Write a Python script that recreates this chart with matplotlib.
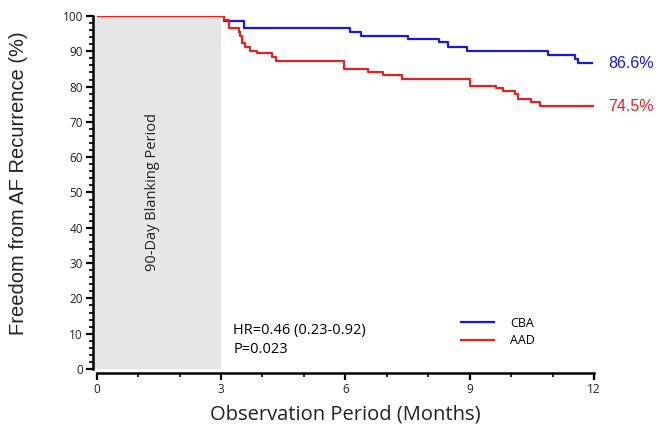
import numpy as np
import matplotlib
matplotlib.use('Agg')
import matplotlib.pyplot as plt
from matplotlib.ticker import MultipleLocator

# curvas de Kaplan-Meier (meses, %)
cba_t = [0, 3.07, 3.55, 6.11, 6.38, 7.51, 8.26, 8.47, 8.93, 10.90, 11.53, 11.62, 11.94]
cba_s = [100, 98.7, 96.5, 95.4, 94.4, 93.5, 92.6, 91.3, 90.2, 89.0, 87.7, 86.6, 86.6]

aad_t = [0, 3.08, 3.19, 3.43, 3.47, 3.51, 3.59, 3.71, 3.87, 4.24, 4.32, 5.96,
         6.54, 6.92, 7.37, 9.00, 9.64, 9.81, 10.09, 10.17, 10.49, 10.69, 11.99]
aad_s = [100, 98.9, 96.7, 95.4, 94.3, 92.3, 91.1, 90.2, 89.4, 88.3, 87.3, 85.0,
         84.2, 83.3, 82.2, 80.3, 79.5, 78.8, 77.8, 76.5, 75.6, 74.5, 74.5]

cor_cba = '#1a1ad6'
cor_aad = '#e02424'

fig = plt.figure(figsize=(6.59, 4.36), dpi=100)
ax = fig.add_axes([0.1467, 0.1537, 0.7547, 0.8096])

# periodo de blanking
ax.axvspan(-0.1, 3, ymin=0, ymax=1, color='#e6e6e6', zorder=0, lw=0, clip_on=False)
ax.text(1.34, 50, '90-Day Blanking Period', rotation=90, ha='center', va='center',
        fontsize=10.5, family='Open Sans', color='#222222')

ax.step(cba_t, cba_s, where='post', color=cor_cba, lw=1.6, label='CBA')
ax.step(aad_t, aad_s, where='post', color=cor_aad, lw=1.6, label='AAD')

ax.text(12.35, cba_s[-1], f'{cba_s[-1]}%', color=cor_cba, fontsize=11.5,
        family='Liberation Sans', va='center', ha='left')
ax.text(12.35, aad_s[-1], f'{aad_s[-1]}%', color=cor_aad, fontsize=11.5,
        family='Liberation Sans', va='center', ha='left')

ax.text(3.3, 11.0, 'HR=0.46 (0.23-0.92)', fontsize=10.5, family='Open Sans', va='center')
ax.text(3.3, 5.4, 'P=0.023', fontsize=10.5, family='Open Sans', va='center')

leg = ax.legend(loc='lower left', bbox_to_anchor=(0.71, 0.03), frameon=False,
                prop={'family': 'Open Sans', 'size': 9}, handlelength=2.6,
                labelspacing=0.35, handletextpad=1.3)

ax.set_xlim(0, 12)
ax.set_ylim(0, 100)
ax.xaxis.set_major_locator(MultipleLocator(3))
ax.xaxis.set_minor_locator(MultipleLocator(1))
ax.yaxis.set_major_locator(MultipleLocator(10))
ax.yaxis.set_minor_locator(MultipleLocator(2))

for lado in ['top', 'right']:
    ax.spines[lado].set_visible(False)
for lado in ['left', 'bottom']:
    ax.spines[lado].set_linewidth(1.8)
    ax.spines[lado].set_position(('outward', 3))

ax.tick_params(which='major', length=5, width=1.6, labelsize=8.5, pad=2)
ax.tick_params(which='minor', length=3, width=1.2)
for lbl in ax.get_xticklabels() + ax.get_yticklabels():
    lbl.set_family('Open Sans')
    lbl.set_color('#222222')

ax.set_xlabel('Observation Period (Months)', fontsize=14.5, family='Open Sans', labelpad=6,
              color='#222222')
ax.set_ylabel('Freedom from AF Recurrence (%)', fontsize=14.5, family='Liberation Sans',
              color='#222222', va='center')
ax.yaxis.set_label_coords(-0.158, 0.525)

plt.savefig('out.png', dpi=100)
plt.close()
